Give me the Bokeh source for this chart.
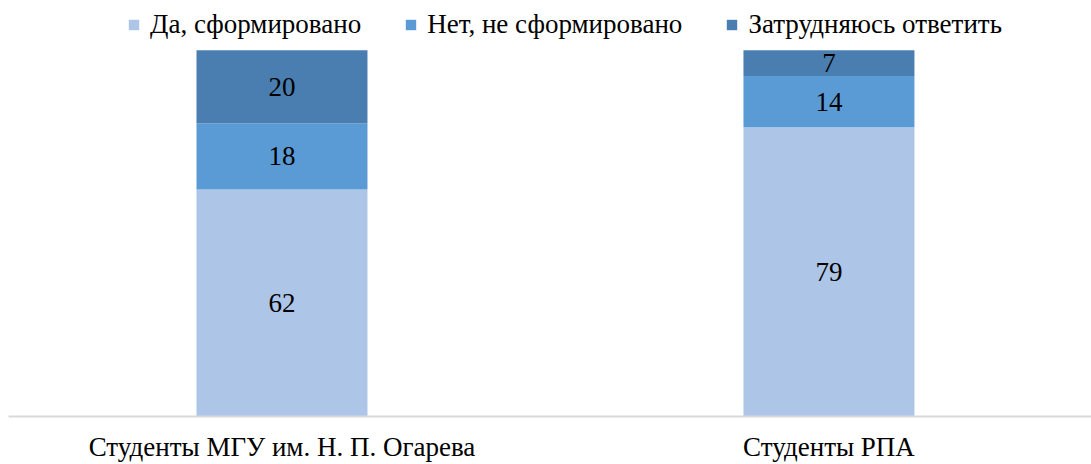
from bokeh.plotting import figure
from bokeh.models import ColumnDataSource, Range1d, FixedTicker, Legend, LegendItem
from bokeh.embed import file_html
from bokeh.resources import INLINE
from bokeh.core.properties import value

categories = ["Студенты МГУ им. Н. П. Огарева", "Студенты РПА"]
series_names = ["Да, сформировано", "Нет, не сформировано", "Затрудняюсь ответить"]
yes_vals = [62, 79]
no_vals = [18, 14]
unsure_vals = [20, 7]
colors = ["#adc5e7", "#5b9bd5", "#4a7eb0"]

FONT = "'Liberation Serif', 'Times New Roman', serif"
FS = "27px"

xs = [i + 0.5 for i in range(len(categories))]
series = [yes_vals, no_vals, unsure_vals]

p = figure(width=1091, height=464, output_backend="svg", toolbar_location=None,
           x_range=Range1d(0, 1.98), y_range=Range1d(0, 111.4),
           y_axis_location=None, min_border_left=8, min_border_right=0,
           min_border_top=8, min_border_bottom=47)
p.outline_line_color = None
p.xgrid.visible = False
p.ygrid.visible = False
p.background_fill_color = "white"
p.border_fill_color = "white"

items = []
bottoms = [0] * len(categories)
for name, vals, col in zip(series_names, series, colors):
    tops = [b + v for b, v in zip(bottoms, vals)]
    mids = [(b + t) / 2 for b, t in zip(bottoms, tops)]
    src = ColumnDataSource(dict(x=xs, bottom=bottoms, top=tops, mid=mids,
                                label=[str(v) for v in vals]))
    r = p.vbar(x="x", bottom="bottom", top="top", width=0.3126, source=src,
               fill_color=col, line_color=None)
    p.text(x="x", y="mid", text="label", source=src, text_align="center",
           text_baseline="middle", text_font=value(FONT), text_font_size=FS,
           text_color="black")
    items.append(LegendItem(label=name, renderers=[r]))
    bottoms = tops

legend = Legend(items=items, orientation="horizontal", location=(119, 376),
                border_line_color=None, background_fill_alpha=0, padding=0, margin=0,
                spacing=43, label_standoff=10, glyph_width=13, glyph_height=13,
                label_text_font=FONT, label_text_font_size=FS, label_text_color="black")
p.add_layout(legend)

ax = p.xaxis[0]
ax.ticker = FixedTicker(ticks=xs)
ax.major_label_overrides = {x: c for x, c in zip(xs, categories)}
ax.axis_line_color = "#d9d9d9"
ax.axis_line_width = 2
ax.major_tick_line_color = None
ax.minor_tick_line_color = None
ax.major_tick_out = 0
ax.major_tick_in = 0
ax.major_label_standoff = 15
ax.major_label_text_font = FONT
ax.major_label_text_font_size = FS
ax.major_label_text_color = "black"

open("out.html", "w").write(file_html(p, INLINE))
